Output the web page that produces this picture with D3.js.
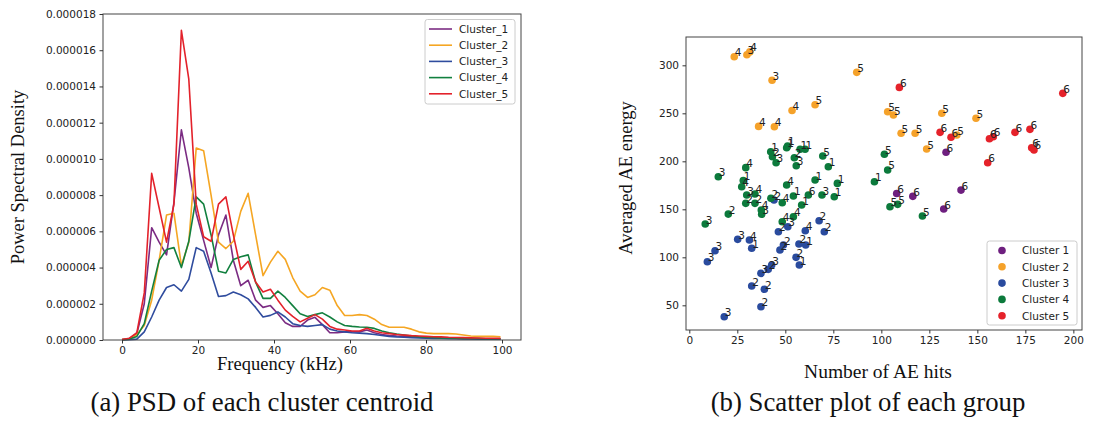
<!DOCTYPE html>
<html>
<head>
<meta charset="utf-8">
<script src="https://cdn.jsdelivr.net/npm/d3@7/dist/d3.min.js"></script>
<style>
  body { margin: 0; background: #fff; }
  .tick text { font-family: "DejaVu Sans", sans-serif; font-size: 10.5px; fill: #222; }
  .tick line { stroke: #333; }
  .lab { font-family: "Liberation Serif", "Times New Roman", serif; fill: #111; }
</style>
</head>
<body>
<script>
// ---- (a) PSD data, values in units of 1e-6 ----
const freq = [0, 1.95, 3.91, 5.86, 7.81, 9.77, 11.72, 13.67, 15.63, 17.58, 19.53, 21.48, 23.44,
  25.39, 27.34, 29.30, 31.25, 33.20, 35.16, 37.11, 39.06, 41.02, 42.97, 44.92, 46.88, 48.83,
  50.78, 52.73, 54.69, 56.64, 58.59, 60.55, 62.50, 64.45, 66.41, 68.36, 70.31, 72.27, 74.22,
  76.17, 78.13, 80.08, 82.03, 83.98, 85.94, 87.89, 89.84, 91.80, 93.75, 95.70, 97.66, 99.61];

const psd1 = [0.02, 0.08, 0.35, 2.0, 6.2, 5.4, 4.7, 7.6, 11.6, 9.5, 7.0, 5.5, 4.0, 5.8, 6.9, 4.4,
  3.0, 3.3, 2.2, 1.8, 1.9, 1.45, 0.95, 0.75, 0.75, 1.1, 1.25, 0.85, 0.4, 0.4, 0.45, 0.45, 0.45,
  0.55, 0.4, 0.3, 0.25, 0.22, 0.2, 0.17, 0.15, 0.13, 0.12, 0.1, 0.1, 0.09, 0.08, 0.07, 0.07,
  0.06, 0.06, 0.05];
const psd2 = [0.02, 0.05, 0.3, 0.8, 2.2, 4.4, 6.9, 7.0, 4.1, 5.4, 10.6, 10.45, 8.0, 5.4, 5.05,
  5.45, 7.1, 8.1, 5.8, 3.55, 4.3, 4.9, 4.45, 3.45, 2.7, 2.35, 2.5, 2.9, 2.75, 1.9, 1.35, 1.35,
  1.4, 1.35, 1.15, 0.85, 0.7, 0.7, 0.7, 0.6, 0.45, 0.38, 0.35, 0.35, 0.35, 0.33, 0.28, 0.22,
  0.2, 0.2, 0.2, 0.18];
const psd3 = [0.0, 0.02, 0.05, 0.45, 1.27, 2.2, 2.9, 3.05, 2.7, 3.35, 5.1, 4.9, 3.7, 2.4, 2.45,
  2.65, 2.5, 2.27, 1.8, 1.27, 1.36, 1.55, 1.27, 0.9, 0.8, 0.75, 0.8, 0.85, 0.6, 0.5, 0.45, 0.4,
  0.38, 0.35, 0.3, 0.25, 0.2, 0.17, 0.15, 0.13, 0.12, 0.1, 0.09, 0.08, 0.07, 0.07, 0.06, 0.06,
  0.05, 0.05, 0.05, 0.04];
const psd4 = [0.01, 0.05, 0.2, 0.9, 2.7, 4.4, 5.0, 5.1, 4.0, 5.45, 7.9, 7.5, 5.8, 3.8, 3.7, 4.45,
  4.6, 4.7, 3.2, 2.3, 2.3, 2.7, 2.35, 1.9, 1.45, 1.3, 1.4, 1.5, 1.27, 1.0, 0.8, 0.75, 0.72, 0.7,
  0.64, 0.5, 0.4, 0.33, 0.28, 0.22, 0.18, 0.16, 0.14, 0.12, 0.11, 0.1, 0.09, 0.08, 0.08, 0.07,
  0.07, 0.07];
const psd5 = [0.02, 0.1, 0.4, 2.6, 9.2, 7.3, 5.4, 7.5, 17.1, 14.4, 7.5, 5.7, 5.45, 7.5, 7.9, 5.8,
  3.9, 4.35, 3.2, 2.65, 2.8, 2.2, 1.65, 1.3, 1.0, 1.2, 1.4, 1.15, 0.75, 0.6, 0.55, 0.5, 0.5, 0.65,
  0.5, 0.4, 0.35, 0.3, 0.27, 0.24, 0.22, 0.2, 0.18, 0.17, 0.15, 0.14, 0.13, 0.12, 0.11, 0.1, 0.1,
  0.09];

const lineNames = ['Cluster_1', 'Cluster_2', 'Cluster_3', 'Cluster_4', 'Cluster_5'];
const lineColors = ['#7b2c83', '#f5a623', '#2f4c9e', '#12803f', '#e3222b'];
const psdTicks = [0, 2, 4, 6, 8, 10, 12, 14, 16, 18];
const freqTicks = [0, 20, 40, 60, 80, 100];

// ---- (b) scatter data: [hits, energy, tag] ----
const cluster1 = [[133.7, 209.4, '6'], [141.5, 170, '6'], [108, 166.5, '6'], [116.4, 163.5, '6'],
  [132.5, 150.3, '6']];
const cluster2 = [[23.4, 309, '4'], [30, 311, '3'], [31.5, 314, '4'], [43.1, 284.4, '3'],
  [53.5, 253, '4'], [65.5, 259, '5'], [36.1, 236.4, '4'], [44.3, 236, '4'], [87.2, 292.7, '5'],
  [103.3, 251.7, '5'], [106.3, 248.2, '5'], [110.3, 229.2, '5'], [117.6, 229.2, '5'],
  [131.5, 250, '5'], [149.3, 244.8, '5'], [123.6, 212.8, '5'], [139.3, 227.4, '5']];
const cluster3 = [[9.4, 95.4, '3'], [13.4, 106.9, '3'], [25.2, 118.7, '3'], [31.3, 118, '4'],
  [32.5, 109.4, '1'], [18.2, 38.1, '3'], [32.5, 70.1, '2'], [39.1, 66.7, '2'], [37.3, 48.5, '2'],
  [37.3, 83.3, '3'], [41.1, 87.5, '2'], [42.9, 92, '3'], [47.2, 107.6, '2'], [49, 112.8, '2'],
  [46.4, 126.7, '2'], [51.3, 131.9, '3'], [57.1, 113.9, '2'], [60.6, 112.8, '1'], [55.6, 100, '2'],
  [57.3, 92, '1'], [60.4, 127.7, '4'], [67.6, 138.1, '2'], [70.3, 126.7, '2'], [44.1, 159.7, '2']];
const cluster4 = [[8.3, 134.7, '3'], [15.1, 184, '3'], [20.3, 145, '2'], [27.3, 173.5, '4'],
  [28.1, 180, '1'], [29.4, 193.4, '4'], [29.9, 164.9, '3'], [29.4, 156.2, '2'], [34.2, 166, '4'],
  [34.2, 156.2, '2'], [37.5, 149.3, '4'], [37.7, 144.8, '3'], [42.4, 210, '1'], [43.3, 204.8, '2'],
  [45.2, 198.5, '3'], [42.5, 161.5, '2'], [48.4, 156.9, '4'], [50.7, 175.3, '4'], [48.4, 137.1, '4'],
  [50.7, 214.2, '1'], [51.2, 216, '1'], [54.7, 203.8, '2'], [55.7, 195.4, '3'], [57.7, 212.5, '1'],
  [60.3, 212.5, '1'], [54.2, 163.9, '1'], [58.5, 154.5, '1'], [62, 164.9, '6'], [54.2, 142.3, '4'],
  [65.5, 180.5, '1'], [69.1, 164.9, '3'], [69.5, 205.5, '5'], [72.4, 194.4, '1'], [75.5, 163.1, '1'],
  [77.1, 177, '1'], [96.4, 178.8, '1'], [101.6, 207.3, '5'], [103.3, 191, '5'], [104.5, 152.7, '5'],
  [108.5, 155.2, '5'], [121.4, 143, '5']];
const cluster5 = [[109.4, 277, '6'], [194.5, 270.8, '6'], [130.6, 230.2, '6'], [136.3, 225, '6'],
  [156.3, 223.5, '6'], [158.3, 225.6, '6'], [169.6, 230.2, '6'], [177.4, 233.3, '6'],
  [178.3, 214.2, '6'], [179.5, 211.8, '6'], [155.4, 198.5, '6']];

const dotNames = ['Cluster 1', 'Cluster 2', 'Cluster 3', 'Cluster 4', 'Cluster 5'];
const dotColors = ['#6e1f7f', '#f5a22a', '#2a4b9e', '#0c7a3c', '#e5222a'];
const hitTicks = [0, 25, 50, 75, 100, 125, 150, 175, 200];
const energyTicks = [50, 100, 150, 200, 250, 300];

const w = 1094;
const h = 426;

const svg = d3.select('body')
              .append('svg')
              .attr('width', w)
              .attr('height', h);

// ================= (a) PSD lines =================
const L = {left: 103, right: 521, top: 14, bottom: 340};
const xA = d3.scaleLinear().domain([-5, 105]).range([L.left, L.right]);
const yA = d3.scaleLinear().domain([0, 18]).range([L.bottom, L.top]);

const line = d3.line()
  .x((d, i) => xA(freq[i]))
  .y(d => yA(d));

const gA = svg.append('g');
gA.selectAll('path.psd')
  .data([psd1, psd2, psd3, psd4, psd5])
  .enter()
  .append('path')
  .attr('class', 'psd')
  .attr('d', d => line(d))
  .attr('fill', 'none')
  .attr('stroke', (d, i) => lineColors[i])
  .attr('stroke-width', 1.6)
  .attr('stroke-linejoin', 'round');

gA.append('rect')
  .attr('x', L.left).attr('y', L.top)
  .attr('width', L.right - L.left).attr('height', L.bottom - L.top)
  .attr('fill', 'none').attr('stroke', '#444').attr('stroke-width', 1);

gA.append('g')
  .attr('transform', `translate(0, ${L.bottom})`)
  .call(d3.axisBottom(xA).tickValues(freqTicks).tickSize(3.5).tickPadding(3.5))
  .call(g => g.select('.domain').remove());
gA.append('g')
  .attr('transform', `translate(${L.left}, 0)`)
  .call(d3.axisLeft(yA).tickValues(psdTicks).tickSize(3.5).tickPadding(3.5)
    .tickFormat(d => (d / 1e6).toFixed(6)))
  .call(g => g.select('.domain').remove());

svg.append('text').attr('class', 'lab')
  .attr('x', 280).attr('y', 370)
  .attr('text-anchor', 'middle').attr('font-size', 18.5)
  .text('Frequency (kHz)');
svg.append('text').attr('class', 'lab')
  .attr('transform', 'translate(24, 177) rotate(-90)')
  .attr('text-anchor', 'middle').attr('font-size', 18.5)
  .text('Power Spectral Density');

// legend (a)
const legA = svg.append('g').attr('transform', 'translate(425, 19.5)');
legA.append('rect')
  .attr('width', 90).attr('height', 84.5).attr('rx', 2.5)
  .attr('fill', '#fff').attr('stroke', '#ccc');
lineNames.forEach((n, i) => {
  const yy = 9.5 + i * 16.2;
  legA.append('line')
    .attr('x1', 4).attr('x2', 27).attr('y1', yy).attr('y2', yy)
    .attr('stroke', lineColors[i]).attr('stroke-width', 1.6);
  legA.append('text')
    .attr('x', 34).attr('y', yy + 3.8)
    .attr('font-family', 'DejaVu Sans').attr('font-size', 10.5).attr('fill', '#222')
    .text(n);
});

// ================= (b) scatter =================
const R = {left: 686, right: 1082, top: 37, bottom: 330};
const xB = d3.scaleLinear().domain([-1.72, 204.5]).range([R.left, R.right]);
const yB = d3.scaleLinear().domain([24.3, 329.5]).range([R.bottom, R.top]);

const groups = [cluster1, cluster2, cluster3, cluster4, cluster5];
const gB = svg.append('g');

groups.forEach((pts, k) => {
  gB.selectAll('circle.c' + k)
    .data(pts)
    .enter()
    .append('circle')
    .attr('class', 'c' + k)
    .attr('cx', d => xB(d[0]))
    .attr('cy', d => yB(d[1]))
    .attr('r', 3.8)
    .attr('fill', dotColors[k]);
});
groups.forEach((pts, k) => {
  gB.selectAll('text.t' + k)
    .data(pts)
    .enter()
    .append('text')
    .attr('class', 't' + k)
    .text(d => d[2])
    .attr('x', d => xB(d[0]) + 0.5)
    .attr('y', d => yB(d[1]) - 0.5)
    .attr('font-family', 'DejaVu Sans')
    .attr('font-size', 10.5)
    .attr('fill', '#222');
});

gB.append('rect')
  .attr('x', R.left).attr('y', R.top)
  .attr('width', R.right - R.left).attr('height', R.bottom - R.top)
  .attr('fill', 'none').attr('stroke', '#444').attr('stroke-width', 1);

gB.append('g')
  .attr('transform', `translate(0, ${R.bottom})`)
  .call(d3.axisBottom(xB).tickValues(hitTicks).tickSize(3.5).tickPadding(3.5))
  .call(g => g.select('.domain').remove());
gB.append('g')
  .attr('transform', `translate(${R.left}, 0)`)
  .call(d3.axisLeft(yB).tickValues(energyTicks).tickSize(3.5).tickPadding(3.5))
  .call(g => g.select('.domain').remove());

svg.append('text').attr('class', 'lab')
  .attr('x', 878).attr('y', 378)
  .attr('text-anchor', 'middle').attr('font-size', 19.5)
  .text('Number of AE hits');
svg.append('text').attr('class', 'lab')
  .attr('transform', 'translate(632, 178) rotate(-90)')
  .attr('text-anchor', 'middle').attr('font-size', 18.5)
  .text('Averaged AE energy');

// legend (b)
const legB = svg.append('g').attr('transform', 'translate(987, 241)');
legB.append('rect')
  .attr('width', 90).attr('height', 84).attr('rx', 2.5)
  .attr('fill', '#fff').attr('stroke', '#ccc');
dotNames.forEach((n, i) => {
  const yy = 9.5 + i * 16.3;
  legB.append('circle')
    .attr('cx', 15).attr('cy', yy).attr('r', 3.8)
    .attr('fill', dotColors[i]);
  legB.append('text')
    .attr('x', 35).attr('y', yy + 3.8)
    .attr('font-family', 'DejaVu Sans').attr('font-size', 10.5).attr('fill', '#222')
    .text(n);
});

// captions
svg.append('text').attr('class', 'lab')
  .attr('x', 262).attr('y', 411)
  .attr('text-anchor', 'middle').attr('font-size', 26.8)
  .text('(a) PSD of each cluster centroid');
svg.append('text').attr('class', 'lab')
  .attr('x', 868).attr('y', 411)
  .attr('text-anchor', 'middle').attr('font-size', 26.8)
  .text('(b) Scatter plot of each group');
</script>
</body>
</html>
